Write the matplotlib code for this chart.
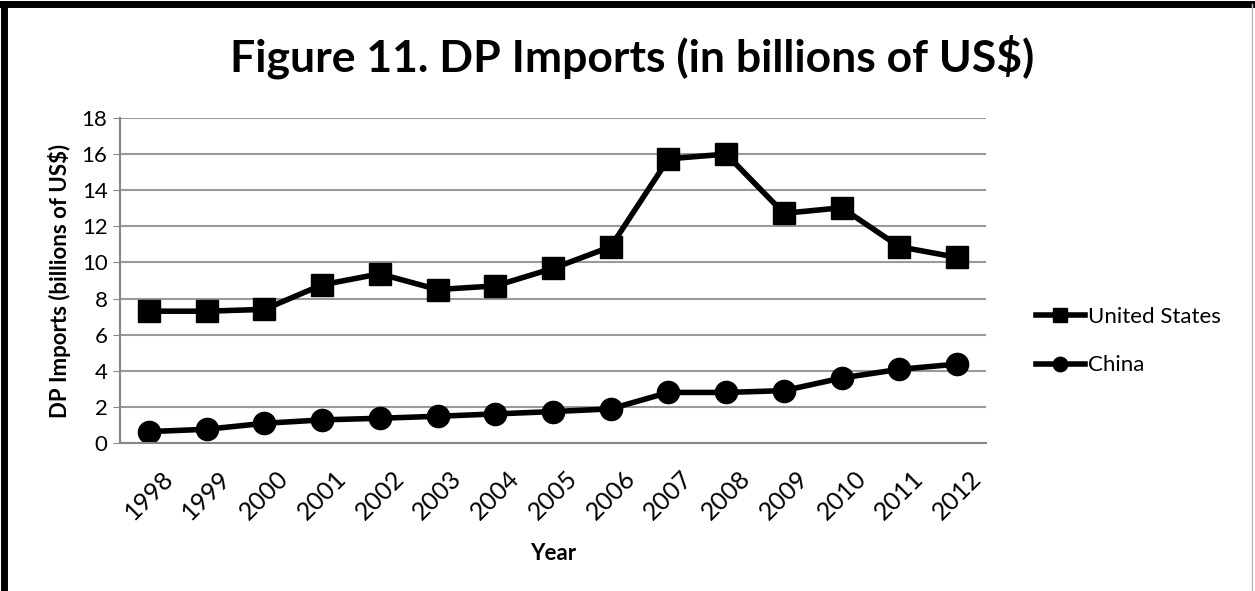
import matplotlib.pyplot as plt
from matplotlib.lines import Line2D

years = ['1998', '1999', '2000', '2001', '2002', '2003', '2004', '2005',
         '2006', '2007', '2008', '2009', '2010', '2011', '2012']
united_states = [7.3, 7.3, 7.4, 8.76, 9.37, 8.5, 8.7, 9.67, 10.87, 15.74, 16.0, 12.72, 13.03, 10.87, 10.28]
china = [0.63, 0.76, 1.09, 1.28, 1.37, 1.48, 1.61, 1.74, 1.89, 2.8, 2.8, 2.9, 3.6, 4.08, 4.37]

plt.rcParams['font.family'] = ['Lato', 'DejaVu Sans']

fig = plt.figure(figsize=(12.55, 5.91), dpi=100)
W, H = 1255, 591
ax = fig.add_axes([120 / W, 1 - 443 / H, (986 - 120) / W, (443 - 118) / H])

x = range(len(years))
ax.plot(x, united_states, color='black', lw=4, marker='s', ms=16, label='United States')
ax.plot(x, china, color='black', lw=4, marker='o', ms=16, label='China')

ax.set_xlim(-0.5, len(years) - 0.5)
ax.set_ylim(0, 18)
ax.set_yticks(range(0, 19, 2))
ax.set_xticks(list(x))
ax.set_xticklabels(years, rotation=45, ha='center')
ax.tick_params(axis='x', length=0, labelsize=18, pad=17)
ax.tick_params(axis='y', length=5, color='#868686', labelsize=16, pad=4)
ax.grid(axis='y', color='#9a9a9a', lw=1.5)
ax.set_axisbelow(True)
for s in ['top', 'right']:
    ax.spines[s].set_visible(False)
ax.spines['left'].set_color('#868686')
ax.spines['bottom'].set_color('#868686')
ax.spines['left'].set_linewidth(1.5)
ax.spines['bottom'].set_linewidth(1.5)

ax.set_xlabel('Year', fontsize=16, fontweight='bold', labelpad=14)
ax.set_ylabel('DP Imports (billions of US$)', fontsize=16, fontweight='bold', labelpad=8)

fig.suptitle('Figure 11. DP Imports (in billions of US$)', fontsize=32, fontweight='bold',
             x=632 / W, y=1 - 57 / H, va='center')

fig.legend(loc='center left', bbox_to_anchor=(1016 / W, 1 - 341 / H), frameon=False,
           fontsize=16, handlelength=2.2, handletextpad=0.15, labelspacing=1.3,
           markerscale=0.65)

# outer frame from the screenshot
fig.add_artist(Line2D([4 / W, 4 / W], [0, 1 - 4 / H], color='black', lw=5))
fig.add_artist(Line2D([2 / W, 1], [1 - 4 / H, 1 - 4 / H], color='black', lw=5))
fig.add_artist(Line2D([1252 / W, 1252 / W], [0, 1 - 4 / H], color='#bbbbbb', lw=1))

fig.savefig('out.png', dpi=100)
